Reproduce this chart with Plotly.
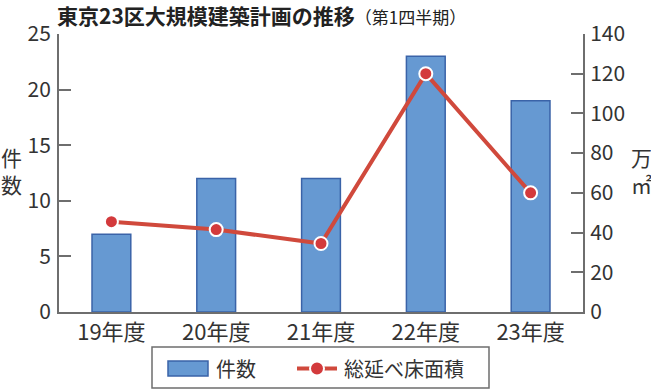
import plotly.graph_objects as go

categories = ["19年度", "20年度", "21年度", "22年度", "23年度"]
counts = [7, 12, 12, 23, 19]
floor_area = [45.5, 41.5, 34.5, 120, 60]
left_ticks = [0, 5, 10, 15, 20, 25]
right_ticks = [0, 20, 40, 60, 80, 100, 120, 140]
series_names = ["件数", "総延べ床面積"]

FONT = "Noto Sans CJK JP"
GREY = "#6e6e6e"
TXT = "#333333"
BAR_FILL = "#6699d2"
BAR_EDGE = "#3a63a8"
LINE_C = "#d0493c"
MARK_C = "#d33a3c"

fig = go.Figure()
fig.add_trace(go.Bar(
    x=categories, y=counts, name=series_names[0],
    marker=dict(color=BAR_FILL, line=dict(color=BAR_EDGE, width=1.5)),
    width=0.37, yaxis="y", showlegend=False,
))
fig.add_trace(go.Scatter(
    x=categories, y=floor_area, name=series_names[1], yaxis="y2",
    mode="lines+markers", showlegend=False,
    line=dict(color=LINE_C, width=4),
    marker=dict(color=MARK_C, size=13, line=dict(color="white", width=2)),
))

# custom legend (paper coordinates; plot area 59..583 x, 34..312 y)
PW, PH, L, T = 524, 278, 59, 34
def px(x):
    return (x - L) / PW
def py(y):
    return (T + PH - y) / PH

shapes = [
    dict(type="rect", xref="paper", yref="paper", x0=px(152), x1=px(489), y0=py(347), y1=py(388),
         line=dict(color=GREY, width=1.5), fillcolor="rgba(0,0,0,0)"),
    dict(type="rect", xref="paper", yref="paper", x0=px(168), x1=px(208), y0=py(361), y1=py(376),
         line=dict(color=BAR_EDGE, width=1.5), fillcolor=BAR_FILL),
    dict(type="line", xref="paper", yref="paper", x0=px(297), x1=px(337), y0=py(368.5), y1=py(368.5),
         line=dict(color=LINE_C, width=4)),
    dict(type="circle", xref="paper", yref="paper", x0=px(310), x1=px(324), y0=py(361.5), y1=py(375.5),
         line=dict(color="white", width=2), fillcolor=MARK_C),
]

fig.update_layout(
    width=651, height=391,
    margin=dict(l=59, r=68, t=34, b=79, autoexpand=False),
    paper_bgcolor="white", plot_bgcolor="white",
    font=dict(family=FONT, color=TXT, size=19),
    showlegend=False,
    shapes=shapes,
    xaxis=dict(
        showline=True, linecolor=GREY, linewidth=2, ticks="",
        tickfont=dict(size=22, color=TXT), showgrid=False, automargin=False,
    ),
    yaxis=dict(
        range=[0, 25], tickvals=left_ticks, showgrid=False, zeroline=False,
        showline=True, linecolor=GREY, linewidth=2,
        ticks="inside", ticklen=12, tickcolor=GREY, tickwidth=2,
        tickfont=dict(size=21, color=TXT), ticklabelstandoff=2, automargin=False,
    ),
    yaxis2=dict(
        range=[0, 140], tickvals=right_ticks, overlaying="y", side="right",
        showgrid=False, zeroline=False,
        showline=True, linecolor=GREY, linewidth=2,
        ticks="inside", ticklen=12, tickcolor=GREY, tickwidth=2,
        tickfont=dict(size=21, color=TXT), ticklabelstandoff=1, automargin=False,
    ),
    annotations=[
        dict(text="<b>東京23区大規模建築計画の推移</b><span style='font-size:17px'>（第1四半期）</span>",
             x=px(55), xref="paper", y=py(15), yref="paper", showarrow=False,
             font=dict(size=21, color="#222222"), xanchor="left", yanchor="middle"),
        dict(text="件<br>数", xref="paper", yref="paper", x=px(11), y=py(170),
             xanchor="center", yanchor="middle",
             showarrow=False, font=dict(size=21, color=TXT), align="center"),
        dict(text="万<br>㎡", xref="paper", yref="paper", x=px(641), y=py(170),
             xanchor="center", yanchor="middle",
             showarrow=False, font=dict(size=21, color=TXT), align="center"),
        dict(text=series_names[0], xref="paper", yref="paper", x=px(214), y=py(368.5),
             xanchor="left", yanchor="middle", showarrow=False, font=dict(size=20, color=TXT)),
        dict(text=series_names[1], xref="paper", yref="paper", x=px(342), y=py(368.5),
             xanchor="left", yanchor="middle", showarrow=False, font=dict(size=20, color=TXT)),
    ],
)

fig.write_html(
    "out.html",
    config={"displayModeBar": False},
    post_script="document.body.style.margin='0px';document.body.style.overflow='hidden';",
)
